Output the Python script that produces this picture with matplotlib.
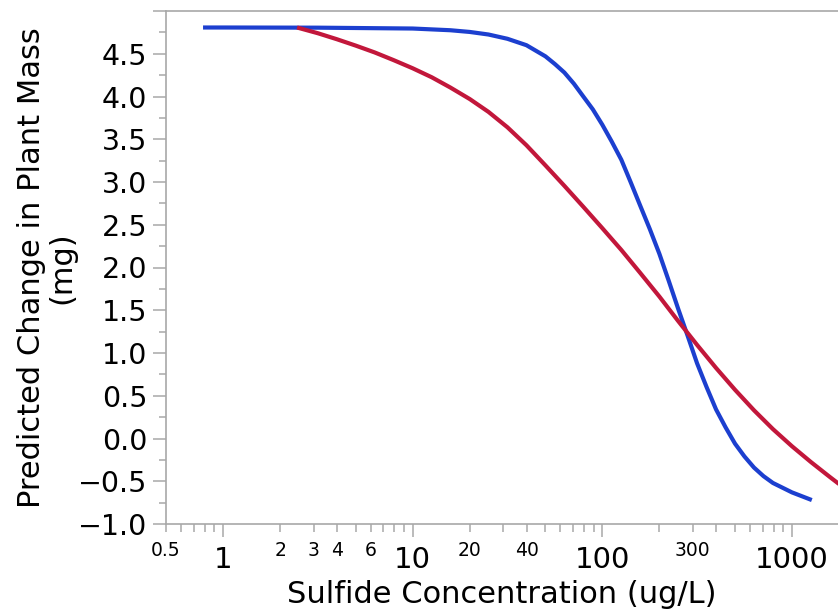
import numpy as np
import matplotlib
matplotlib.use("Agg")
import matplotlib.pyplot as plt
from matplotlib.ticker import FixedLocator, FuncFormatter

# values
blue_conc = [0.784, 1.0, 3.16, 10, 15.8, 20, 25.1, 31.6, 39.8, 50.1, 56.2, 63.1, 70.8, 79.4,
             89.1, 100, 112, 126, 141, 158, 178, 200, 224, 251, 282, 316, 355, 398,
             447, 501, 562, 631, 708, 794, 1000, 1273]
blue_val = [4.807, 4.807, 4.805, 4.795, 4.775, 4.755, 4.725, 4.675, 4.60, 4.47, 4.38, 4.28, 4.15,
            4.00, 3.85, 3.67, 3.475, 3.26, 3.00, 2.73, 2.45, 2.16, 1.845, 1.52, 1.20, 0.88, 0.60,
            0.34, 0.13, -0.06, -0.21, -0.34, -0.44, -0.52, -0.63, -0.72]

red_conc = [2.455, 3.16, 3.98, 5.01, 6.31, 7.94, 10, 12.6, 15.8, 20, 25.1, 31.6, 39.8,
            50.1, 63.1, 79.4, 100, 126, 158, 200, 251, 316, 398, 501, 631, 794, 1000,
            1259, 1585, 1995]
red_val = [4.807, 4.74, 4.67, 4.595, 4.515, 4.425, 4.33, 4.225, 4.105, 3.97, 3.82, 3.64, 3.43,
           3.195, 2.955, 2.71, 2.46, 2.205, 1.94, 1.66, 1.375, 1.095, 0.825, 0.57, 0.33, 0.11, -0.09,
           -0.275, -0.45, -0.62]

x_major = [1, 10, 100, 1000]
x_labeled_minor = [0.5, 2, 3, 4, 6, 20, 40, 300]
y_major = np.arange(-1.0, 5.01, 0.5)
y_minor = np.arange(-0.75, 5.0, 0.5)

grey = "#a8a8a8"

fig = plt.figure(figsize=(8.38, 6.11), dpi=100)
ax = fig.add_axes([166 / 838, 87 / 611, 1 - 166 / 838, 513 / 611])

ax.plot(blue_conc, blue_val, color="#1c3fcf", lw=3, solid_capstyle="butt",
        solid_joinstyle="round")
ax.plot(red_conc, red_val, color="#c2173b", lw=3, solid_capstyle="butt",
        solid_joinstyle="round")

ax.set_xscale("log")
ax.set_xlim(0.5, 1750)
ax.set_ylim(-1.0, 5.0)

minor_x = []
for dec in [0.1, 1, 10, 100, 1000]:
    for m in range(2, 10):
        v = m * dec
        if 0.5 <= v <= 1750:
            minor_x.append(v)
ax.xaxis.set_major_locator(FixedLocator(x_major))
ax.xaxis.set_minor_locator(FixedLocator(minor_x))
ax.xaxis.set_major_formatter(FuncFormatter(lambda v, p: "%g" % v))
ax.xaxis.set_minor_formatter(FuncFormatter(
    lambda v, p: ("%g" % v) if any(abs(v - t) < 1e-6 for t in x_labeled_minor) else ""))

ax.yaxis.set_major_locator(FixedLocator(y_major))
ax.yaxis.set_minor_locator(FixedLocator(y_minor))
ax.yaxis.set_major_formatter(FuncFormatter(
    lambda v, p: "" if v > 4.9 else ("%.1f" % v).replace("-", "\u2212")))

for s in ["left", "bottom", "top"]:
    ax.spines[s].set_color(grey)
    ax.spines[s].set_linewidth(1.2)
ax.spines["right"].set_visible(False)

ax.tick_params(axis="x", which="major", length=9.5, width=1.1, color=grey,
               labelsize=21, pad=6)
ax.tick_params(axis="x", which="minor", length=6, width=1.1, color=grey,
               labelsize=13.5, pad=6)
ax.tick_params(axis="y", which="major", length=9.5, width=1.1, color=grey,
               labelsize=20.5, pad=4)
ax.tick_params(axis="y", which="minor", length=5, width=1.1, color=grey)

ax.set_xlabel("Sulfide Concentration (ug/L)", fontsize=22, labelpad=5)
ax.set_ylabel("Predicted Change in Plant Mass\n(mg)", fontsize=22, labelpad=1,
              linespacing=1.05)

fig.savefig("out.png", dpi=100)
